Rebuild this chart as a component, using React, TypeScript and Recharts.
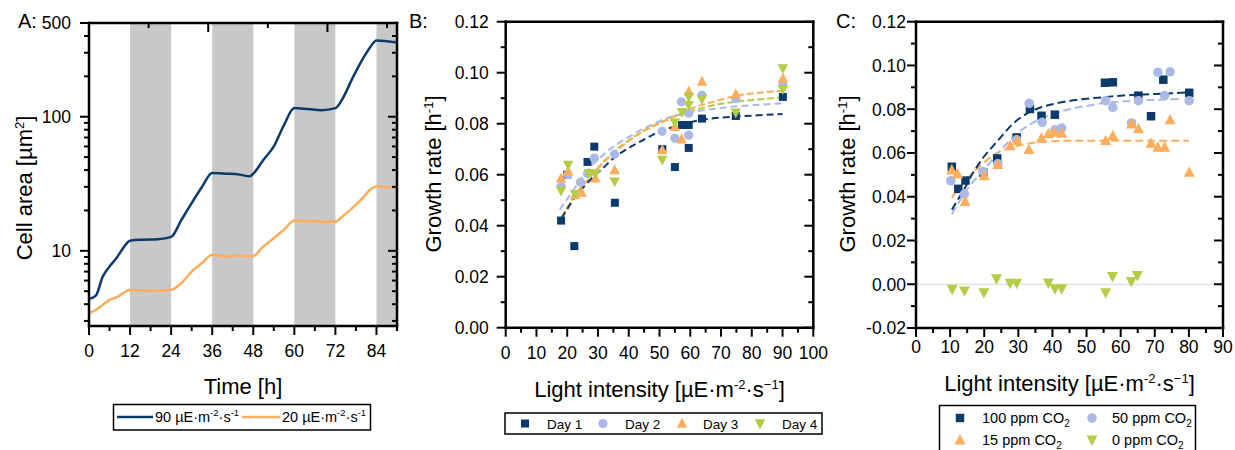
import React from 'react';
import { ComposedChart, Line, Scatter, XAxis, YAxis, ReferenceArea, ReferenceLine } from 'recharts';

const FONT = '"Liberation Sans", Arial, Helvetica, sans-serif';
const NAVY = '#0d3a6c';
const LIGHT = '#aab9e6';
const ORANGE = '#ffad5a';
const GREEN = '#b3cd47';
const BAND = '#c8c8c8';

// ---------- Panel A ----------
const timeA = [0, 2, 4, 6, 8, 10, 12, 16, 20, 24, 27, 30, 33, 36, 40, 44, 47, 48, 51, 54, 57, 60, 64, 68, 72, 74, 77, 80, 82, 84, 87, 90];
const area90 = [4.38, 4.64, 6.4, 7.64, 8.8, 10.5, 11.9, 12.1, 12.2, 12.7, 17.0, 22.7, 29.9, 38, 37.6, 37, 36, 37.6, 47.8, 60, 87, 116, 114, 112, 116, 135, 194, 270, 326, 371, 366, 358];
const area20 = [3.43, 3.63, 3.95, 4.31, 4.49, 4.83, 5.12, 5.06, 5.04, 5.12, 5.74, 7.0, 8.1, 9.33, 9.07, 9.2, 9.1, 9.15, 10.8, 12.4, 14.4, 16.8, 16.7, 16.5, 16.5, 18.0, 20.9, 24.8, 28.3, 30.2, 29.9, 29.6];
const darkPeriods = [[12, 24], [36, 48], [60, 72], [84, 90]];
const aXTicks = [0, 6, 12, 18, 24, 30, 36, 42, 48, 54, 60, 66, 72, 78, 84, 90];
const aXMajor = [0, 12, 24, 36, 48, 60, 72, 84];
const aYTicks = [3, 4, 5, 6, 7, 8, 9, 10, 20, 30, 40, 50, 60, 70, 80, 90, 100, 200, 300, 400, 500];
const aYMajor = [10, 100, 500];

// ---------- Panel B ----------
const day1 = [[18, 0.042], [20, 0.060], [22.3, 0.032], [26.6, 0.065], [28.8, 0.071], [35.5, 0.049], [50.9, 0.070], [55, 0.063], [57.3, 0.0795], [59.5, 0.0795], [59.5, 0.0705], [63.8, 0.082], [74.8, 0.083], [90.1, 0.0905]];
const day2 = [[18, 0.0555], [20.2, 0.060], [24.3, 0.057], [26.6, 0.0605], [28.8, 0.0665], [35.4, 0.068], [50.8, 0.077], [55, 0.0743], [57.1, 0.0886], [59.5, 0.0841], [59.5, 0.0755], [63.8, 0.0912], [74.8, 0.0898], [90.1, 0.0952]];
const day3 = [[18, 0.0586], [20.3, 0.0612], [22.5, 0.052], [24.7, 0.053], [29.2, 0.0586], [35.4, 0.0618], [50.9, 0.0697], [55, 0.0788], [57.2, 0.0739], [59.5, 0.0926], [63.8, 0.0965], [74.8, 0.0916], [90.1, 0.0978]];
const day4 = [[18, 0.0537], [20.3, 0.0638], [22.5, 0.0524], [27, 0.0606], [29.2, 0.0605], [35.4, 0.0573], [50.9, 0.0658], [55, 0.0804], [57.3, 0.0845], [59.5, 0.0905], [59.5, 0.0873], [63.8, 0.0896], [74.8, 0.0843], [90.1, 0.1017], [90.1, 0.0935]];
const fitDay1 = [[18.2, 0.0429], [20, 0.0465], [23, 0.052], [26, 0.056], [28.5, 0.0592], [32, 0.063], [35, 0.0664], [40, 0.0705], [45, 0.0738], [50, 0.0769], [55, 0.0789], [60, 0.0806], [67.5, 0.0821], [75, 0.0828], [82, 0.0833], [90, 0.0838]];
const fitDay2 = [[17.6, 0.0462], [20, 0.0505], [22, 0.054], [25, 0.059], [27.5, 0.0631], [31, 0.067], [35, 0.071], [40, 0.0748], [44, 0.0776], [48, 0.0799], [52, 0.082], [56, 0.0834], [61, 0.0847], [67, 0.0857], [74, 0.0867], [82, 0.0874], [90, 0.088]];
const fitDay3 = [[18.2, 0.0435], [20, 0.047], [23, 0.0527], [26, 0.057], [28.5, 0.0605], [32, 0.065], [35, 0.0684], [40, 0.0732], [44, 0.0765], [48, 0.079], [52, 0.0812], [56, 0.0837], [60, 0.0858], [67.5, 0.0886], [76, 0.0912], [83, 0.0922], [90, 0.0929]];
const fitDay4 = [[18.2, 0.043], [20, 0.047], [23, 0.0527], [26, 0.057], [28.5, 0.0607], [32, 0.0653], [35, 0.0688], [40, 0.0735], [44, 0.0767], [48, 0.0792], [52, 0.0814], [56, 0.0832], [60, 0.0848], [67.5, 0.0872], [76, 0.0888], [83, 0.0896], [90, 0.0903]];
const bXTicks = [0, 5, 10, 15, 20, 25, 30, 35, 40, 45, 50, 55, 60, 65, 70, 75, 80, 85, 90, 95, 100];
const bXMajor = [0, 10, 20, 30, 40, 50, 60, 70, 80, 90, 100];
const bYTicks = [0, 0.01, 0.02, 0.03, 0.04, 0.05, 0.06, 0.07, 0.08, 0.09, 0.1, 0.11, 0.12];
const bYMajor = [0, 0.02, 0.04, 0.06, 0.08, 0.1, 0.12];

// ---------- Panel C ----------
const co2_100 = [[10.5, 0.0537], [12.4, 0.0436], [14.5, 0.0474], [19.7, 0.0511], [23.8, 0.0575], [29.5, 0.0671], [33.4, 0.0801], [36.8, 0.077], [40.7, 0.0775], [55.4, 0.0921], [57.7, 0.0923], [65.2, 0.0862], [68.9, 0.0768], [72.5, 0.0935], [80.1, 0.0875]];
const co2_50 = [[10.2, 0.0473], [14.2, 0.0412], [19.6, 0.0515], [24, 0.055], [29.5, 0.066], [33.2, 0.0827], [37, 0.074], [40.7, 0.0706], [42.7, 0.0714], [55.6, 0.0839], [57.7, 0.0808], [63.2, 0.0737], [65.2, 0.0839], [70.9, 0.0968], [72.9, 0.0862], [74.5, 0.0971], [80.1, 0.0839]];
const co2_15 = [[10.5, 0.0522], [12.2, 0.0504], [14.4, 0.0378], [20, 0.0496], [24, 0.0547], [27.6, 0.0633], [29.7, 0.0656], [33.1, 0.0615], [36.8, 0.0668], [38.8, 0.0687], [40.5, 0.0694], [42.7, 0.069], [55.6, 0.0656], [57.7, 0.0679], [63.2, 0.0732], [65.2, 0.071], [68.9, 0.0644], [70.9, 0.0626], [72.9, 0.0626], [74.5, 0.0751], [80.1, 0.0511]];
const co2_0 = [[10.6, -0.0023], [14.2, -0.003], [19.9, -0.0038], [23.6, 0.0025], [27.6, 0.0005], [29.5, 0.0005], [38.8, 0.0006], [40.7, -0.002], [42.7, -0.002], [55.6, -0.0038], [57.6, 0.0036], [63.1, 0.0013], [64.9, 0.004]];
const fit100 = [[10.5, 0.034], [12, 0.038], [14, 0.043], [16, 0.049], [18, 0.054], [20, 0.0585], [22.5, 0.063], [25, 0.0675], [28.5, 0.0735], [32.5, 0.078], [36.5, 0.0808], [40, 0.0823], [45, 0.0838], [50, 0.0848], [55, 0.0855], [60, 0.0862], [65, 0.0866], [70, 0.087], [75, 0.0873], [80, 0.0877]];
const fit50 = [[10.5, 0.032], [12, 0.036], [14, 0.041], [16, 0.0455], [18, 0.049], [20, 0.0525], [22.5, 0.057], [25, 0.0615], [29.5, 0.0687], [34.5, 0.074], [40, 0.0777], [45, 0.08], [50, 0.0815], [55, 0.0828], [60, 0.0835], [65, 0.084], [70, 0.0843], [78, 0.0847]];
const fit15 = [[10.5, 0.0395], [12, 0.043], [14, 0.0465], [16, 0.05], [18, 0.053], [20, 0.0557], [22.5, 0.0588], [25, 0.061], [28, 0.0625], [31, 0.0637], [35, 0.0648], [40, 0.0654], [45, 0.0656], [55, 0.0656], [65, 0.0656], [80, 0.0656]];
const cXTicks = [0, 5, 10, 15, 20, 25, 30, 35, 40, 45, 50, 55, 60, 65, 70, 75, 80, 85, 90];
const cXMajor = [0, 10, 20, 30, 40, 50, 60, 70, 80, 90];
const cYTicks = [-0.02, -0.01, 0, 0.01, 0.02, 0.03, 0.04, 0.05, 0.06, 0.07, 0.08, 0.09, 0.1, 0.11, 0.12];
const cYMajor = [-0.02, 0, 0.02, 0.04, 0.06, 0.08, 0.1, 0.12];

const toXY = (arr: number[][]) => arr.map(([x, y]) => ({ x, y }));
const dataA = timeA.map((t, i) => ({ t, high: area90[i], low: area20[i] }));

const axisLineStyle: any = { stroke: '#000', strokeWidth: 2.5, strokeLinecap: 'square' };

type Side = 'left' | 'right' | 'top' | 'bottom';
function makeTick(side: Side, majors: number[], label?: { gap: number; fmt: (v: number) => string; size: number }) {
  return (props: any) => {
    const x = Number(props.x);
    const y = Number(props.y);
    const v = Number(props.payload?.value);
    const isMajor = majors.some((m) => Math.abs(m - v) < 1e-9);
    const len = isMajor ? 9 : 5;
    const horiz = side === 'left' || side === 'right';
    const x2 = horiz ? x - len : x;
    const y2 = horiz ? y : y + len;
    return (
      <g>
        <line x1={x} y1={y} x2={x2} y2={y2} stroke="#000" strokeWidth={2} />
        {label && isMajor ? (
          <text
            x={side === 'left' ? x - label.gap : x}
            y={side === 'left' ? y : y + label.gap}
            dy="0.36em"
            textAnchor={side === 'left' ? 'end' : 'middle'}
            fontSize={label.size}
            fontFamily={FONT}
            fill="#000"
          >
            {label.fmt(v)}
          </text>
        ) : null}
      </g>
    );
  };
}

const fmtInt = (v: number) => String(v);
const fmt2 = (v: number) => v.toFixed(2);

const sq = (s: number, c: string) => (p: any) => <rect x={p.cx - s / 2} y={p.cy - s / 2} width={s} height={s} fill={c} />;
const circ = (r: number, c: string) => (p: any) => <circle cx={p.cx} cy={p.cy} r={r} fill={c} />;
const triUp = (w: number, c: string) => (p: any) => (
  <path d={`M${p.cx},${p.cy - w * 0.55} L${p.cx + w / 2},${p.cy + w * 0.4} L${p.cx - w / 2},${p.cy + w * 0.4} Z`} fill={c} />
);
const triDown = (w: number, c: string) => (p: any) => (
  <path d={`M${p.cx},${p.cy + w * 0.55} L${p.cx + w / 2},${p.cy - w * 0.4} L${p.cx - w / 2},${p.cy - w * 0.4} Z`} fill={c} />
);

// segments: [text, shift] where shift 0 = normal, >0 raised (superscript), <0 lowered (subscript)
type Seg = [string, number];
function Rich({ segs, small, up = 8 }: { segs: Seg[]; small: number; up?: number }) {
  let cur = 0;
  return (
    <>
      {segs.map(([txt, s], i) => {
        const target = s > 0 ? -up : s < 0 ? up * 0.55 : 0;
        const dy = target - cur;
        cur = target;
        return (
          <tspan key={i} dy={dy} fontSize={s !== 0 ? small : undefined}>
            {txt}
          </tspan>
        );
      })}
    </>
  );
}

function PanelA() {
  return (
    <ComposedChart width={410} height={370} data={dataA} margin={{ top: 22, right: 12, bottom: 4, left: 29 }}>
      {darkPeriods.map(([a, b]) => (
        <ReferenceArea key={a} xAxisId="b" yAxisId="l" x1={a} x2={b} y1={2.75} y2={500} fill={BAND} fillOpacity={1} stroke="none" />
      ))}
      <Line xAxisId="b" yAxisId="l" type="monotone" dataKey="low" stroke={ORANGE} strokeWidth={2.5} dot={false} activeDot={false} isAnimationActive={false} />
      <Line xAxisId="b" yAxisId="l" type="monotone" dataKey="high" stroke={NAVY} strokeWidth={2.5} dot={false} activeDot={false} isAnimationActive={false} />
      <XAxis xAxisId="b" dataKey="t" type="number" domain={[0, 90]} allowDataOverflow ticks={aXTicks} interval={0} height={40} tickSize={0} tickMargin={0} tickLine={false} axisLine={axisLineStyle} tick={makeTick('bottom', aXMajor, { gap: 25, fmt: fmtInt, size: 17.5 })} />
      <XAxis xAxisId="t" orientation="top" type="number" domain={[0, 90]} allowDataOverflow ticks={aXTicks} interval={0} height={1} tickSize={0} tickMargin={0} tickLine={false} axisLine={axisLineStyle} tick={makeTick('top', aXMajor)} />
      <YAxis yAxisId="l" scale="log" type="number" domain={[2.75, 500]} allowDataOverflow ticks={aYTicks} interval={0} width={60} tickSize={0} tickMargin={0} tickLine={false} axisLine={axisLineStyle} tick={makeTick('left', aYMajor, { gap: 18, fmt: fmtInt, size: 17.5 })} />
      <YAxis yAxisId="r" orientation="right" scale="log" type="number" domain={[2.75, 500]} allowDataOverflow ticks={aYTicks} interval={0} width={1} tickSize={0} tickMargin={0} tickLine={false} axisLine={axisLineStyle} tick={makeTick('right', aYMajor)} />
    </ComposedChart>
  );
}

function PanelB() {
  const dash = { strokeWidth: 2, dot: false as const, activeDot: false as const, isAnimationActive: false, type: 'monotone' as const, xAxisId: 'b', yAxisId: 'l', dataKey: 'y' };
  return (
    <ComposedChart width={420} height={370} margin={{ top: 20.7, right: 15.7, bottom: 2.3, left: 35.7 }}>
      <Scatter xAxisId="b" yAxisId="l" data={toXY(day1)} shape={sq(8, NAVY)} isAnimationActive={false} />
      <Scatter xAxisId="b" yAxisId="l" data={toXY(day2)} shape={circ(4.6, LIGHT)} isAnimationActive={false} />
      <Scatter xAxisId="b" yAxisId="l" data={toXY(day3)} shape={triUp(10.5, ORANGE)} isAnimationActive={false} />
      <Scatter xAxisId="b" yAxisId="l" data={toXY(day4)} shape={triDown(10.5, GREEN)} isAnimationActive={false} />
      <Line {...dash} data={toXY(fitDay2)} stroke={LIGHT} strokeDasharray="7 4" />
      <Line {...dash} data={toXY(fitDay4)} stroke={GREEN} strokeDasharray="7 3" />
      <Line {...dash} data={toXY(fitDay3)} stroke={ORANGE} strokeDasharray="7 3" />
      <Line {...dash} data={toXY(fitDay1)} stroke={NAVY} strokeDasharray="7 4" />
      <XAxis xAxisId="b" dataKey="x" type="number" domain={[0, 100]} allowDataOverflow ticks={bXTicks} interval={0} height={40} tickSize={0} tickMargin={0} tickLine={false} axisLine={axisLineStyle} tick={makeTick('bottom', bXMajor, { gap: 25, fmt: fmtInt, size: 17.5 })} />
      <XAxis xAxisId="t" orientation="top" type="number" domain={[0, 100]} allowDataOverflow ticks={bXTicks} interval={0} height={1} tickSize={0} tickMargin={0} tickLine={false} axisLine={axisLineStyle} tick={makeTick('top', bXMajor)} />
      <YAxis yAxisId="l" dataKey="y" type="number" domain={[0, 0.12]} allowDataOverflow ticks={bYTicks} interval={0} width={60} tickSize={0} tickMargin={0} tickLine={false} axisLine={axisLineStyle} tick={makeTick('left', bYMajor, { gap: 17, fmt: fmt2, size: 17.5 })} />
      <YAxis yAxisId="r" orientation="right" type="number" domain={[0, 0.12]} allowDataOverflow ticks={bYTicks} interval={0} width={1} tickSize={0} tickMargin={0} tickLine={false} axisLine={axisLineStyle} tick={makeTick('right', bYMajor)} />
    </ComposedChart>
  );
}

function PanelC() {
  const dash = { strokeWidth: 2, dot: false as const, activeDot: false as const, isAnimationActive: false, type: 'monotone' as const, xAxisId: 'b', yAxisId: 'l', dataKey: 'y' };
  return (
    <ComposedChart width={415} height={370} margin={{ top: 20.7, right: 11, bottom: 2, left: 36 }}>
      <ReferenceLine xAxisId="b" yAxisId="l" y={0} stroke="#d6d6d6" strokeWidth={1.2} />
      <Scatter xAxisId="b" yAxisId="l" data={toXY(co2_100)} shape={sq(8.5, NAVY)} isAnimationActive={false} />
      <Scatter xAxisId="b" yAxisId="l" data={toXY(co2_50)} shape={circ(4.8, LIGHT)} isAnimationActive={false} />
      <Scatter xAxisId="b" yAxisId="l" data={toXY(co2_15)} shape={triUp(11, ORANGE)} isAnimationActive={false} />
      <Scatter xAxisId="b" yAxisId="l" data={toXY(co2_0)} shape={triDown(11, GREEN)} isAnimationActive={false} />
      <Line {...dash} data={toXY(fit15)} stroke={ORANGE} strokeDasharray="8 4" />
      <Line {...dash} data={toXY(fit50)} stroke={LIGHT} strokeDasharray="8 4" />
      <Line {...dash} data={toXY(fit100)} stroke={NAVY} strokeDasharray="8 4" />
      <XAxis xAxisId="b" dataKey="x" type="number" domain={[0, 90]} allowDataOverflow ticks={cXTicks} interval={0} height={40} tickSize={0} tickMargin={0} tickLine={false} axisLine={axisLineStyle} tick={makeTick('bottom', cXMajor, { gap: 18.5, fmt: fmtInt, size: 17.5 })} />
      <XAxis xAxisId="t" orientation="top" type="number" domain={[0, 90]} allowDataOverflow ticks={cXTicks} interval={0} height={1} tickSize={0} tickMargin={0} tickLine={false} axisLine={axisLineStyle} tick={makeTick('top', cXMajor)} />
      <YAxis yAxisId="l" dataKey="y" type="number" domain={[-0.02, 0.12]} allowDataOverflow ticks={cYTicks} interval={0} width={60} tickSize={0} tickMargin={0} tickLine={false} axisLine={axisLineStyle} tick={makeTick('left', cYMajor, { gap: 10, fmt: fmt2, size: 17.5 })} />
      <YAxis yAxisId="r" orientation="right" type="number" domain={[-0.02, 0.12]} allowDataOverflow ticks={cYTicks} interval={0} width={1} tickSize={0} tickMargin={0} tickLine={false} axisLine={axisLineStyle} tick={makeTick('right', cYMajor)} />
    </ComposedChart>
  );
}

const lightSegs: Seg[] = [['Light intensity [µE·m', 0], ['-2', 1], ['·s', 0], ['−1', 1], [']', 0]];
const growthSegs: Seg[] = [['Growth rate [h', 0], ['-1', 1], [']', 0]];
const areaSegs: Seg[] = [['Cell area [µm', 0], ['2', 1], [']', 0]];
const leg90: Seg[] = [['90 µE·m', 0], ['-2', 1], ['·s', 0], ['-1', 1]];
const leg20: Seg[] = [['20 µE·m', 0], ['-2', 1], ['·s', 0], ['-1', 1]];
const co2 = (n: string): Seg[] => [[`${n} ppm CO`, 0], ['2', -1]];

function Overlay() {
  const t = { fontFamily: FONT, fill: '#000' } as const;
  const lightTitle = (x: number, y: number) => (
    <text x={x} y={y} textAnchor="middle" fontSize={22} {...t}>
      <Rich segs={lightSegs} small={13} />
    </text>
  );
  const growthTitle = (x: number, y: number) => (
    <text transform={`translate(${x},${y}) rotate(-90)`} textAnchor="middle" fontSize={22} {...t}>
      <Rich segs={growthSegs} small={13} />
    </text>
  );
  return (
    <svg width={1235} height={450} style={{ position: 'absolute', left: 0, top: 0, pointerEvents: 'none' }}>
      <text x={18} y={28} fontSize={20} {...t}>A:</text>
      <text x={409} y={28} fontSize={20} {...t}>B:</text>
      <text x={836} y={28} fontSize={20} {...t}>C:</text>

      <text transform="translate(32,188) rotate(-90)" textAnchor="middle" fontSize={22} {...t}>
        <Rich segs={areaSegs} small={13} />
      </text>
      <text x={243} y={394} textAnchor="middle" fontSize={22} {...t}>Time [h]</text>
      {growthTitle(441, 174)}
      {lightTitle(659.5, 397)}
      {growthTitle(855, 174)}
      {lightTitle(1069.5, 391)}

      {/* Legend A */}
      <rect x={113.5} y={404.5} width={257} height={25.5} fill="none" stroke="#000" strokeWidth={1.5} />
      <line x1={117} x2={153} y1={417} y2={417} stroke={NAVY} strokeWidth={2.5} />
      <text x={155} y={422} fontSize={14.5} {...t}>
        <Rich segs={leg90} small={9.5} up={6} />
      </text>
      <line x1={242} x2={280} y1={417} y2={417} stroke={ORANGE} strokeWidth={2.5} />
      <text x={282} y={422} fontSize={14.5} {...t}>
        <Rich segs={leg20} small={9.5} up={6} />
      </text>

      {/* Legend B */}
      <rect x={505} y={413} width={317} height={21} fill="none" stroke="#000" strokeWidth={1.5} />
      {sq(8, NAVY)({ cx: 525, cy: 423.5 })}
      <text x={547} y={428.5} fontSize={13.5} {...t}>Day 1</text>
      {circ(4.6, LIGHT)({ cx: 603, cy: 423.5 })}
      <text x={625} y={428.5} fontSize={13.5} {...t}>Day 2</text>
      {triUp(10.5, ORANGE)({ cx: 682, cy: 423.5 })}
      <text x={703} y={428.5} fontSize={13.5} {...t}>Day 3</text>
      {triDown(10.5, GREEN)({ cx: 760, cy: 423.5 })}
      <text x={782} y={428.5} fontSize={13.5} {...t}>Day 4</text>

      {/* Legend C */}
      <rect x={939.5} y={405.5} width={256} height={60} fill="none" stroke="#000" strokeWidth={1.5} />
      {sq(8.5, NAVY)({ cx: 960, cy: 418 })}
      <text x={982} y={423} fontSize={14.5} {...t}><Rich segs={co2('100')} small={10} up={7} /></text>
      {circ(4.8, LIGHT)({ cx: 1092, cy: 418 })}
      <text x={1112} y={423} fontSize={14.5} {...t}><Rich segs={co2('50')} small={10} up={7} /></text>
      {triUp(11, ORANGE)({ cx: 960, cy: 440 })}
      <text x={982} y={445} fontSize={14.5} {...t}><Rich segs={co2('15')} small={10} up={7} /></text>
      {triDown(11, GREEN)({ cx: 1092, cy: 440 })}
      <text x={1112} y={445} fontSize={14.5} {...t}><Rich segs={co2('0')} small={10} up={7} /></text>
    </svg>
  );
}

export default function App() {
  return (
    <div style={{ position: 'absolute', left: 0, top: 0, width: 1235, height: 450, background: '#fff', overflow: 'hidden', fontFamily: FONT }}>
      <div style={{ position: 'absolute', left: 0, top: 0 }}>
        <PanelA />
      </div>
      <div style={{ position: 'absolute', left: 410, top: 0 }}>
        <PanelB />
      </div>
      <div style={{ position: 'absolute', left: 820, top: 0 }}>
        <PanelC />
      </div>
      <Overlay />
    </div>
  );
}
